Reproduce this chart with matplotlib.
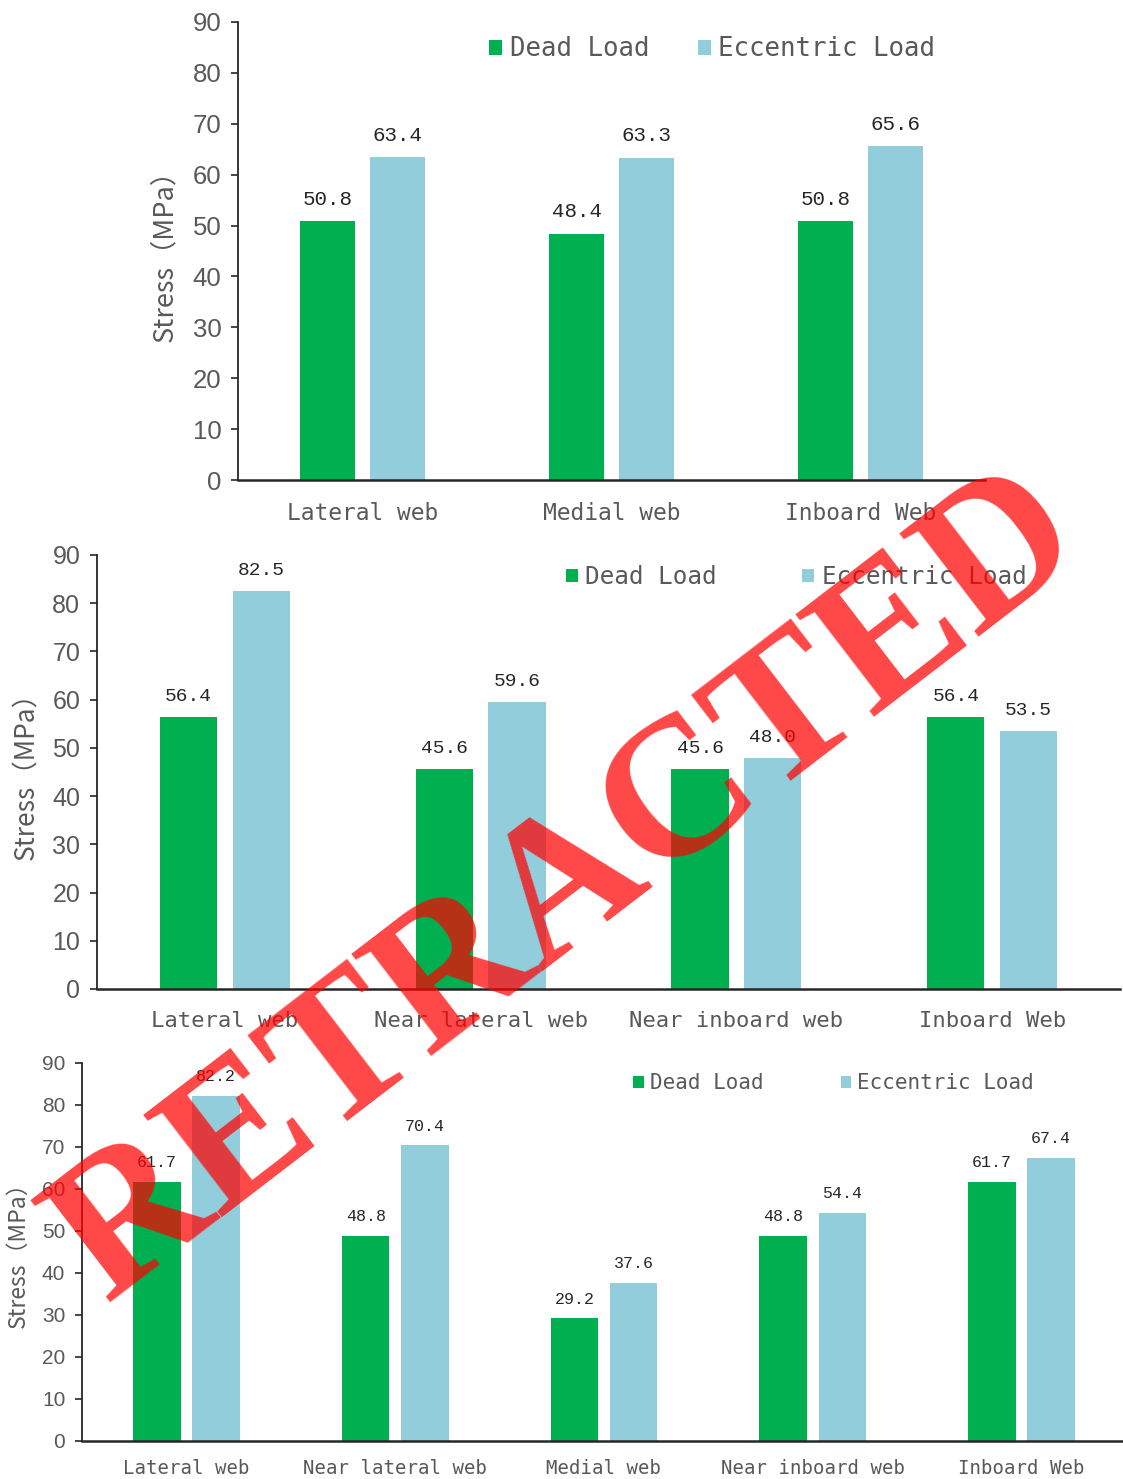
import numpy as np
import matplotlib
matplotlib.use("Agg")
import matplotlib.pyplot as plt

# Stress values (MPa) per web location
cats_a = ["Lateral web", "Medial web", "Inboard Web"]
dead_a = [50.8, 48.4, 50.8]
ecc_a = [63.4, 63.3, 65.6]

cats_b = ["Lateral web", "Near lateral web", "Near inboard web", "Inboard Web"]
dead_b = [56.4, 45.6, 45.6, 56.4]
ecc_b = [82.5, 59.6, 48.0, 53.5]

cats_c = ["Lateral web", "Near lateral web", "Medial web", "Near inboard web", "Inboard Web"]
dead_c = [61.7, 48.8, 29.2, 48.8, 61.7]
ecc_c = [82.2, 70.4, 37.6, 54.4, 67.4]

series_names = ["Dead Load", "Eccentric Load"]
yticks = [0, 10, 20, 30, 40, 50, 60, 70, 80, 90]

GREEN = "#00B050"
BLUE = "#92CDDC"
W, H = 1123, 1479

fig = plt.figure(figsize=(W / 100, H / 100), dpi=100)


def px_axes(left, right, bottom, top):
    return fig.add_axes([left / W, 1 - bottom / H, (right - left) / W, (bottom - top) / H])


panels = [
    dict(cats=cats_a, dead=dead_a, ecc=ecc_a, box=(238, 985, 480, 22), bw=0.22, gap=0.06,
         tick=18.5, cat=16.5, val=15, valoff=9, leg=18.5, leg_pos=(0.336, 0.940), colsp=1.9,
         ylab=19.5, ylab_x=165, ylab_y=249, catpad=16),
    dict(cats=cats_b, dead=dead_b, ecc=ecc_b, box=(97, 1120, 989, 555), bw=0.224, gap=0.06,
         tick=18, cat=16, val=14, valoff=8.5, leg=17.5, leg_pos=(0.4585, 0.949), colsp=3.5,
         ylab=19, ylab_x=27, ylab_y=769, catpad=16),
    dict(cats=cats_c, dead=dead_c, ecc=ecc_c, box=(82, 1126, 1441, 1063), bw=0.228, gap=0.055,
         tick=15, cat=13.7, val=12, valoff=8.5, leg=15, leg_pos=(0.528, 0.947), colsp=3.7,
         ylab=16.5, ylab_x=18, ylab_y=1249, catpad=13),
]

for p in panels:
    ax = px_axes(*p["box"])
    n = len(p["cats"])
    x = np.arange(n)
    off = (p["bw"] + p["gap"]) / 2
    b1 = ax.bar(x - off, p["dead"], width=p["bw"], color=GREEN, label=series_names[0], zorder=2)
    b2 = ax.bar(x + off, p["ecc"], width=p["bw"], color=BLUE, label=series_names[1], zorder=2)

    for bars, vals in ((b1, p["dead"]), (b2, p["ecc"])):
        for rect, v in zip(bars, vals):
            ax.annotate(f"{v:.1f}", (rect.get_x() + rect.get_width() / 2, v),
                        xytext=(0, p["valoff"]), textcoords="offset points", ha="center",
                        va="bottom", fontsize=p["val"], family="Liberation Mono", color="#262626")

    ax.set_xlim(-0.5, n - 0.5)
    ax.set_ylim(0, 90)
    ax.set_yticks(yticks)
    ax.set_xticks(x)
    ax.set_xticklabels(p["cats"], family="DejaVu Sans Mono", fontsize=p["cat"], color="#595959")
    for lab in ax.get_yticklabels():
        lab.set_family("Liberation Sans")
        lab.set_fontsize(p["tick"])
        lab.set_color("#595959")
    ax.tick_params(axis="x", length=0, pad=p["catpad"])
    ax.tick_params(axis="y", length=5, width=1.2, color="#262626", pad=7)
    for s in ("top", "right"):
        ax.spines[s].set_visible(False)
    ax.spines["left"].set_color("#262626")
    ax.spines["left"].set_linewidth(1.3)
    ax.spines["bottom"].set_color("#262626")
    ax.spines["bottom"].set_linewidth(1.8)
    ax.spines["bottom"].set_zorder(3)

    ax.legend(loc="center left", bbox_to_anchor=p["leg_pos"], ncol=2, frameon=False,
              handlelength=0.5, handleheight=0.5, handletextpad=0.3, columnspacing=p["colsp"],
              borderpad=0, borderaxespad=0,
              prop=dict(family="DejaVu Sans Mono", size=p["leg"]), labelcolor="#595959")

    fig.text(p["ylab_x"] / W, 1 - p["ylab_y"] / H, "Stress（MPa）", rotation=90,
             ha="center", va="center", fontsize=p["ylab"], color="#595959",
             family=["Noto Sans CJK SC", "DejaVu Sans"])

# Retraction stamp across the figure
fig.text(569 / W, 1 - 889 / H, "RETRACTED", rotation=37.5, rotation_mode="anchor",
         ha="center", va="center", fontsize=142, family="Liberation Serif", weight="bold",
         color="#FF0000", alpha=0.72, zorder=10)

fig.savefig("out.png", dpi=100)
